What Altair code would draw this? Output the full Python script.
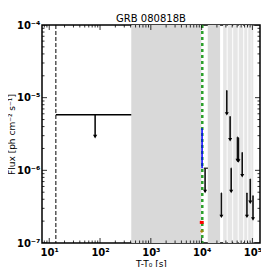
import altair as alt
import pandas as pd

# ---- data ----
# upper-limit points (time in s, flux in ph cm^-2 s^-1)
ul_time = [11700, 24500, 31300, 36400, 38200, 50800, 53000, 63000, 78000, 90700, 102700]
ul_lo = [11000, 24000, 30700, 35800, 37600, 50000, 52200, 62000, 76800, 89300, 101000]
ul_hi = [13300, 25000, 31900, 37000, 38800, 51600, 53800, 64000, 79200, 92100, 104400]
ul_flux = [1.07e-6, 4.86e-7, 1.25e-5, 5.5e-6, 1.07e-6, 2.86e-6, 2.8e-6, 1.76e-6, 4.86e-7, 7.58e-7, 4.47e-7]

# first long-interval upper limit
ul0_lo = [13.5]
ul0_hi = [412]
ul0_mid = [80]
ul0_flux = [5.8e-6]

# grey bands
band_start = [412, 13200, 26500, 32500, 41800, 53700, 69000, 82800, 95000]
band_end = [9860, 23100, 31100, 40000, 51300, 65900, 79100, 92900, 104000]
band_shade = ["dark", "dark", "light", "light", "light", "light", "light", "light", "light"]

trigger_t = [13.5]          # dashed black line
green_t = [10300]           # green dotted line
blue_t = [10200]
blue_lo = [1.07e-6]
blue_hi = [3.8e-6]
red_lo = [9200]
red_hi = [11000]
red_flux = [1.92e-7]
orange_t = [10100]
orange_flux = [1.45e-7]

XMIN, XMAX = 7.2, 1.41e5
x_major = [10, 100, 1000, 10000, 100000]
x_minor = [m * 10 ** e for e in range(0, 6) for m in range(2, 10) if XMIN <= m * 10 ** e <= XMAX]
y_major = [1e-7, 1e-6, 1e-5, 1e-4]
y_minor = [m * 10.0 ** e for e in range(-7, -4) for m in range(2, 10)]

W, H = 218, 218
xs = alt.Scale(type="log", domain=[XMIN, XMAX], nice=False)
ys = alt.Scale(type="log", domain=[1e-7, 1e-4], nice=False)

x_label_expr = "'10' + ['⁰','¹','²','³','⁴','⁵','⁶'][round(log(datum.value)/LN10)]"
y_label_expr = "'10' + ['⁻⁷','⁻⁶','⁻⁵','⁻⁴'][round(log(datum.value)/LN10) + 7]"

bands = pd.DataFrame({"t0": band_start, "t1": band_end, "shade": band_shade})
band_layer = alt.Chart(bands).mark_rect(clip=True).encode(
    x=alt.X("t0:Q", scale=xs,
            axis=alt.Axis(values=x_major, labelExpr=x_label_expr, title="T-T₀ [s]",
                          tickSize=0, domain=False, grid=False, labelFont="DejaVu Sans",
                          labelFontWeight="bold", labelFontSize=10, labelColor="black",
                          labelPadding=4, titleFont="DejaVu Sans", titleFontWeight="normal",
                          titleFontSize=9, titleColor="black", titlePadding=2)),
    x2="t1:Q",
    y=alt.value(0),
    y2=alt.value(H),
    color=alt.Color("shade:N", scale=alt.Scale(domain=["dark", "light"], range=["#d9d9d9", "#e6e6e6"]), legend=None),
)

yaxis_layer = alt.Chart(pd.DataFrame({"v": [1e-7]})).mark_point(opacity=0).encode(
    y=alt.Y("v:Q", scale=ys,
            axis=alt.Axis(values=y_major, labelExpr=y_label_expr, title="Flux [ph cm⁻² s⁻¹]",
                          tickSize=0, domain=False, grid=False, labelFont="DejaVu Sans",
                          labelFontWeight="bold", labelFontSize=10, labelColor="black",
                          labelPadding=2, titleFont="DejaVu Sans", titleFontWeight="normal",
                          titleFontSize=9, titleColor="black", titleAngle=270,
                          titleX=-31, titleY=H / 2, titleBaseline="middle", titleAlign="center"))
)

trig = alt.Chart(pd.DataFrame({"t": trigger_t})).mark_rule(
    color="black", strokeWidth=1, strokeDash=[4, 2], clip=True
).encode(x=alt.X("t:Q", scale=xs), y=alt.value(0), y2=alt.value(H))

ul0 = pd.DataFrame({"lo": ul0_lo, "hi": ul0_hi, "mid": ul0_mid, "f": ul0_flux})
ul0_h = alt.Chart(ul0).mark_rule(color="black", strokeWidth=1.5, clip=True).encode(
    x=alt.X("lo:Q", scale=xs), x2="hi:Q", y=alt.Y("f:Q", scale=ys))
ul0_v = alt.Chart(ul0).transform_calculate(fe="datum.f * pow(10, -0.30)").mark_rule(
    color="black", strokeWidth=1.5, clip=True).encode(
    x=alt.X("mid:Q", scale=xs), y=alt.Y("f:Q", scale=ys), y2="fe:Q")
ul0_head = alt.Chart(ul0).transform_calculate(fe="datum.f * pow(10, -0.30)").mark_point(
    shape="triangle-down", filled=True, color="black", size=18, opacity=1, clip=True).encode(
    x=alt.X("mid:Q", scale=xs), y=alt.Y("fe:Q", scale=ys))

green = alt.Chart(pd.DataFrame({"t": green_t})).mark_rule(
    color="#2ca02c", strokeWidth=2.5, strokeDash=[3, 3], clip=True
).encode(x=alt.X("t:Q", scale=xs), y=alt.value(0), y2=alt.value(H))

blue = alt.Chart(pd.DataFrame({"t": blue_t, "lo": blue_lo, "hi": blue_hi})).mark_rule(
    color="#0000ff", strokeWidth=1.5, clip=True
).encode(x=alt.X("t:Q", scale=xs), y=alt.Y("lo:Q", scale=ys), y2="hi:Q")

red = alt.Chart(pd.DataFrame({"lo": red_lo, "hi": red_hi, "f": red_flux})).mark_rule(
    color="#ff0000", strokeWidth=3, clip=True
).encode(x=alt.X("lo:Q", scale=xs), x2="hi:Q", y=alt.Y("f:Q", scale=ys))

orange = alt.Chart(pd.DataFrame({"t": orange_t, "f": orange_flux})).mark_point(
    shape="cross", filled=True, color="#b8860b", size=12, opacity=0.8, clip=True
).encode(x=alt.X("t:Q", scale=xs), y=alt.Y("f:Q", scale=ys))

uls = pd.DataFrame({"t": ul_time, "lo": ul_lo, "hi": ul_hi, "f": ul_flux})
ul_base = alt.Chart(uls).transform_calculate(fe="datum.f * pow(10, -0.32)")
ul_v = ul_base.mark_rule(color="#111111", strokeWidth=1.6, clip=True).encode(
    x=alt.X("t:Q", scale=xs), y=alt.Y("f:Q", scale=ys), y2="fe:Q")
ul_cap = ul_base.mark_rule(color="#111111", strokeWidth=1.2, clip=True).encode(
    x=alt.X("lo:Q", scale=xs), x2="hi:Q", y=alt.Y("f:Q", scale=ys))
ul_head = ul_base.mark_point(shape="triangle-down", filled=True, color="black", size=16,
                             opacity=1, clip=True).encode(
    x=alt.X("t:Q", scale=xs), y=alt.Y("fe:Q", scale=ys))

xt = pd.DataFrame({"v": x_major + x_minor, "major": [True] * len(x_major) + [False] * len(x_minor)})
yt = pd.DataFrame({"v": y_major + y_minor, "major": [True] * len(y_major) + [False] * len(y_minor)})


def xticks(major, y0, y1):
    return alt.Chart(xt).transform_filter(
        "datum.major" if major else "!datum.major").mark_rule(
        color="black", strokeWidth=0.8, clip=True).encode(
        x=alt.X("v:Q", scale=xs), y=alt.value(y0), y2=alt.value(y1))


def yticks(major, x0, x1):
    return alt.Chart(yt).transform_filter(
        "datum.major" if major else "!datum.major").mark_rule(
        color="black", strokeWidth=0.8, clip=True).encode(
        y=alt.Y("v:Q", scale=ys), x=alt.value(x0), x2=alt.value(x1))


ticks = [
    xticks(True, H, H - 5), xticks(False, H, H - 2.5),
    xticks(True, 0, 5), xticks(False, 0, 2.5),
    yticks(True, 0, 5), yticks(False, 0, 2.5),
    yticks(True, W, W - 5), yticks(False, W, W - 2.5),
]

chart = alt.layer(
    band_layer, yaxis_layer, trig, ul0_h, ul0_v, ul0_head, green, blue, red, orange,
    ul_v, ul_cap, ul_head, *ticks
).properties(
    width=W, height=H,
    title=alt.TitleParams("GRB 080818B", font="DejaVu Sans", fontSize=10, fontWeight="normal",
                          color="black", offset=2, dy=6),
    autosize=alt.AutoSizeParams(type="none"),
    padding={"left": 34, "top": 17, "right": 1, "bottom": 24},
).configure_view(stroke="black", strokeWidth=1.5)

chart.save("out.html", embed_options={"renderer": "svg", "actions": False})
